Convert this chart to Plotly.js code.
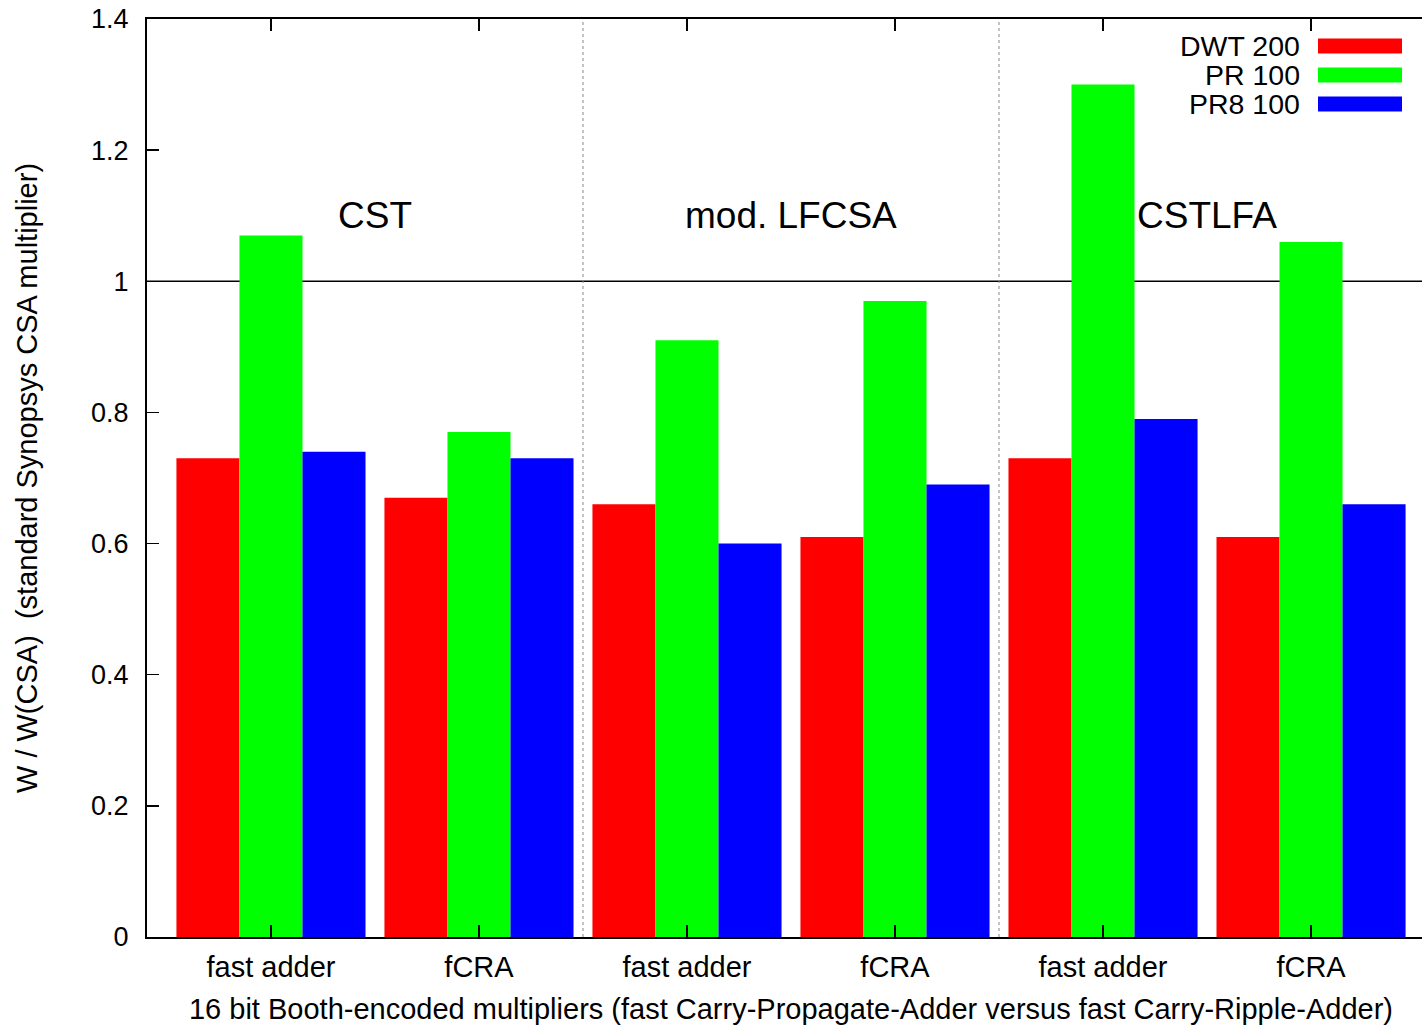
<!DOCTYPE html>
<html>
<head>
<meta charset="utf-8">
<script src="https://cdn.plot.ly/plotly-3.0.1.min.js"></script>
<style>
html, body { margin: 0; padding: 0; overflow: hidden; background: #fff; }
#wrap { width: 1422px; height: 1029px; overflow: hidden; }
#chart { width: 1440px; height: 1029px; }
</style>
</head>
<body>
<div id="wrap"><div id="chart"></div></div>
<script>
// ---- data ----
const categories = ["fast adder", "fCRA", "fast adder", "fCRA", "fast adder", "fCRA"];
const seriesNames = ["DWT 200", "PR 100", "PR8 100"];
const dwt200 = [0.73, 0.67, 0.66, 0.61, 0.73, 0.61];
const pr100  = [1.07, 0.77, 0.91, 0.97, 1.30, 1.06];
const pr8100 = [0.74, 0.73, 0.60, 0.69, 0.79, 0.66];
const groupLabels = ["CST", "mod. LFCSA", "CSTLFA"];
const yTicks = [0, 0.2, 0.4, 0.6, 0.8, 1, 1.2, 1.4];
const yTickText = ["0", "0.2", "0.4", "0.6", "0.8", "1", "1.2", "1.4"];

const colors = ["#ff0000", "#00ff00", "#0000ff"];
const xIdx = categories.map((_, i) => i);
const FONT = "Liberation Sans, Arial, sans-serif";

const traces = [dwt200, pr100, pr8100].map((vals, k) => ({
  type: "bar",
  x: xIdx,
  y: vals,
  name: seriesNames[k],
  marker: { color: colors[k], line: { width: 0 } },
  showlegend: false,
  hoverinfo: "y+name"
}));

const shapes = [
  // reference line at 1
  { type: "line", xref: "paper", yref: "y", x0: 0, x1: 1, y0: 1, y1: 1,
    line: { color: "#000", width: 1.5 }, layer: "below" }
];
// dotted separators between groups
[1.5, 3.5].forEach(xv => shapes.push({
  type: "line", xref: "x", yref: "y", x0: xv, x1: xv, y0: 0, y1: 1.4,
  line: { color: "#888", width: 1, dash: "dot" }, layer: "below"
}));

const annotations = [];
groupLabels.forEach((t, g) => annotations.push({
  x: 2 * g + 0.5, y: 1.101, xref: "x", yref: "y", text: t, showarrow: false,
  font: { family: FONT, size: 37, color: "#000" }, xanchor: "center", yanchor: "middle"
}));

// custom gnuplot-style legend (text right, swatch after)
const W = 1440, H = 1029, mL = 147, mR = 5, mT = 19, mB = 92;
const pw = W - mL - mR, ph = H - mT - mB;
const px = v => (v - mL) / pw;
const py = v => 1 - (v - mT) / ph;
const legRows = [46, 75, 104];
seriesNames.forEach((n, k) => {
  annotations.push({
    xref: "paper", yref: "paper", x: px(1302), y: py(legRows[k]), text: n,
    showarrow: false, xanchor: "right", yanchor: "middle",
    font: { family: FONT, size: 28.5, color: "#000" }
  });
  shapes.push({
    type: "rect", xref: "paper", yref: "paper",
    x0: px(1318), x1: px(1402), y0: py(legRows[k] - 7.5), y1: py(legRows[k] + 7.5),
    fillcolor: colors[k], line: { width: 0 }
  });
});

const layout = {
  width: W, height: H,
  margin: { l: mL, r: mR, t: mT, b: mB },
  paper_bgcolor: "#fff", plot_bgcolor: "#fff",
  barmode: "group", bargap: 0.091, bargroupgap: 0,
  font: { family: FONT, size: 28, color: "#000" },
  xaxis: {
    range: [-0.596, 5.596],
    tickmode: "array", tickvals: xIdx, ticktext: categories,
    ticks: "inside", ticklen: 12, tickwidth: 1.5, tickcolor: "#000",
    showline: true, linecolor: "#000", linewidth: 2, mirror: "ticks",
    showgrid: false, zeroline: false,
    tickfont: { family: FONT, size: 29 },
    ticklabelstandoff: 3,
    title: { text: "16 bit Booth-encoded multipliers (fast Carry-Propagate-Adder versus fast Carry-Ripple-Adder)",
             font: { family: FONT, size: 29 }, standoff: 17 },
    automargin: false
  },
  yaxis: {
    range: [0, 1.4],
    tickmode: "array", tickvals: yTicks, ticktext: yTickText,
    ticks: "inside", ticklen: 12, tickwidth: 1.5, tickcolor: "#000",
    showline: true, linecolor: "#000", linewidth: 2, mirror: "ticks",
    showgrid: false, zeroline: false,
    tickfont: { family: FONT, size: 27 },
    ticklabelstandoff: 11,
    title: { text: "W / W(CSA)  (standard Synopsys CSA multiplier)",
             font: { family: FONT, size: 29 }, standoff: 45 },
    automargin: false
  },
  shapes: shapes,
  annotations: annotations,
  showlegend: false
};

Plotly.newPlot("chart", traces, layout, { displayModeBar: false, staticPlot: true });
</script>
</body>
</html>
